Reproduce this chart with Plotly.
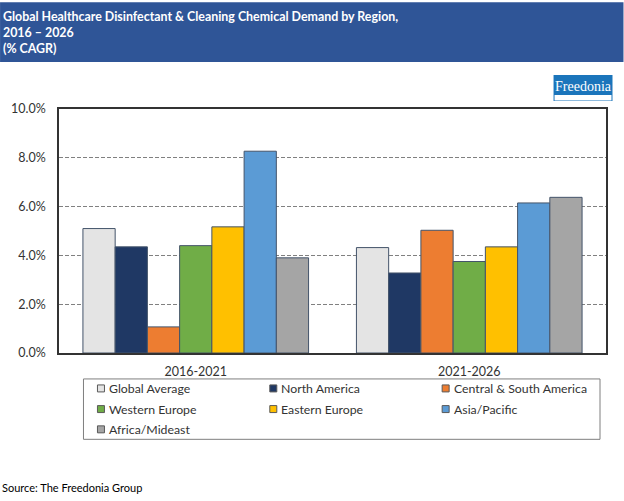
import plotly.graph_objects as go

periods = ["2016-2021", "2021-2026"]
regions = ["Global Average", "North America", "Central & South America", "Western Europe",
           "Eastern Europe", "Asia/Pacific", "Africa/Mideast"]
v_global = [5.1, 4.32]
v_north = [4.35, 3.28]
v_csa = [1.07, 5.03]
v_west = [4.4, 3.75]
v_east = [5.17, 4.35]
v_asia = [8.27, 6.15]
v_africa = [3.9, 6.38]
colors = ["#E4E4E4", "#1F3864", "#ED7D31", "#70AD47", "#FFC000", "#5B9BD5", "#A5A5A5"]
title_lines = ["Global Healthcare Disinfectant &amp; Cleaning Chemical Demand by Region,", "2016 – 2026", "(% CAGR)"]
source = "Source: The Freedonia Group"
W, H = 624, 501
FONT = "Lato"
L, R, T, B = 59, 606.5, 109, 353.5
def px(x): return (x - L) / (R - L)
def py(y): return (B - y) / (B - T)

fig = go.Figure()
for name, vals, c in zip(regions, [v_global, v_north, v_csa, v_west, v_east, v_asia, v_africa], colors):
    fig.add_bar(x=periods, y=vals, name=name, showlegend=False,
                marker=dict(color=c, line=dict(color="#44546A", width=1)))

shapes = [
    dict(type="rect", xref="paper", yref="paper", x0=px(0), x1=px(W), y0=py(62), y1=py(2),
         fillcolor="#2F5597", line_width=0, layer="below"),
    dict(type="rect", xref="paper", yref="paper", x0=px(554), x1=px(613), y0=py(101), y1=py(75),
         fillcolor="#1B75BB", line_width=0, layer="above"),
    dict(type="rect", xref="paper", yref="paper", x0=px(555), x1=px(612), y0=py(100.5), y1=py(95),
         fillcolor="white", line_width=0, layer="above"),
    dict(type="rect", xref="paper", yref="paper", x0=px(83.5), x1=px(600.5), y0=py(440), y1=py(379.5),
         fillcolor="white", line=dict(color="#7F7F7F", width=1), layer="above"),
]
annotations = [
    dict(text=t, xref="paper", yref="paper", x=px(1), y=py(yy), xanchor="left", yanchor="middle",
         showarrow=False, font=dict(family=FONT, size=12.4, color="white", weight="bold"))
    for t, yy in zip(title_lines, [16, 32, 48])
] + [
    dict(text=source, xref="paper", yref="paper", x=px(0), y=py(488), xanchor="left", yanchor="middle",
         showarrow=False, font=dict(family=FONT, size=11, color="black")),
    dict(text="Freedonia", xref="paper", yref="paper", x=px(583.5), y=py(86), xanchor="center", yanchor="middle",
         showarrow=False, font=dict(family="Liberation Serif", size=14, color="white")),
]
col_x = [101, 273.5, 446]
row_y = [389, 409.7, 430]
for i, (name, c) in enumerate(zip(regions, colors)):
    cx, cy = col_x[i % 3], row_y[i // 3]
    shapes.append(dict(type="rect", xref="paper", yref="paper", x0=px(cx - 3.5), x1=px(cx + 3.5), y0=py(cy + 3.5), y1=py(cy - 3.5),
                       fillcolor=c, line=dict(color="#595959", width=1), layer="above"))
    annotations.append(dict(text=name.replace("&", "&amp;"), xref="paper", yref="paper", x=px(cx + 6), y=py(cy),
                            xanchor="left", yanchor="middle", showarrow=False,
                            font=dict(family=FONT, size=12.3, color="#333333")))

fig.update_layout(
    width=W, height=H, barmode="group", bargap=0.175, bargroupgap=0, showlegend=False,
    margin=dict(l=L, r=W - R, t=T, b=H - B, pad=0),
    paper_bgcolor="white", plot_bgcolor="white",
    font=dict(family=FONT, size=12.5, color="#333333"),
    xaxis=dict(showline=True, linecolor="#333333", linewidth=1.5, mirror=True, ticks="", ticklabelstandoff=6,
               tickfont=dict(size=12.5)),
    yaxis=dict(range=[0, 10], dtick=2, tickformat=".1f", ticksuffix="%", showline=True, linecolor="#333333",
               linewidth=1.5, mirror=True, ticks="", gridcolor="#808080", griddash="4px,2px", gridwidth=1,
               zeroline=False, ticklabelstandoff=9, tickfont=dict(size=12.5)),
    shapes=shapes, annotations=annotations,
)
fig.write_html("out.html", config={"displayModeBar": False},
               post_script="document.body.style.margin='0';")
